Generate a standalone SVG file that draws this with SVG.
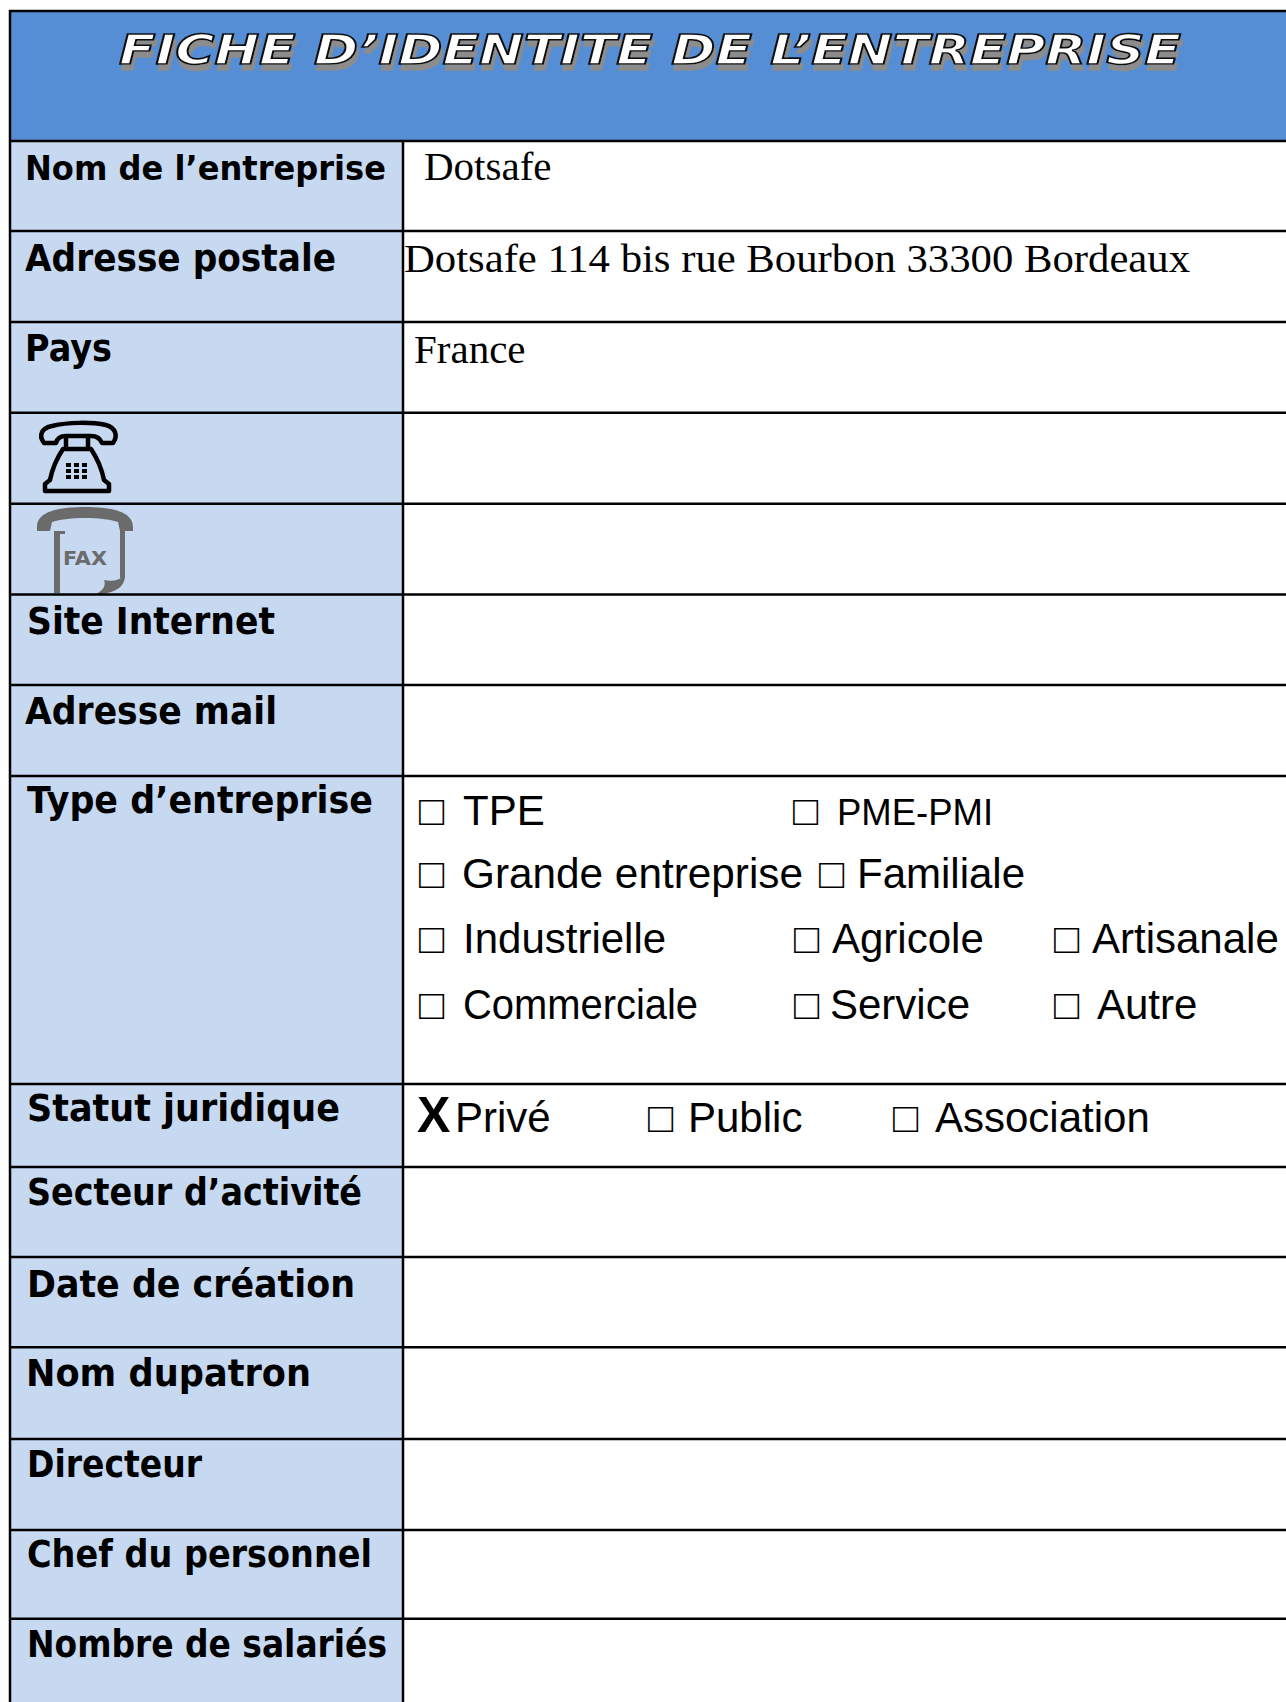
<svg xmlns="http://www.w3.org/2000/svg" width="1286" height="1702" viewBox="0 0 1286 1702">
<style>
.lbl{font-family:"DejaVu Sans","Open Sans",sans-serif;font-weight:bold;font-size:37px;fill:#000}
.val{font-family:"Liberation Serif","Times New Roman",serif;font-size:41px;fill:#000}
.opt{font-family:"Liberation Sans",Arial,sans-serif;font-size:42px;fill:#000}
.grid{stroke:#000;stroke-width:2.5;fill:none}
.title{font-family:"DejaVu Sans","Liberation Sans",sans-serif;font-weight:bold;font-style:oblique;font-size:40px}
</style>
<defs>
<filter id="shadow" x="-5%" y="-40%" width="110%" height="200%">
<feOffset in="SourceAlpha" dx="2" dy="6" result="off"/>
<feFlood flood-color="#8c8c8c"/>
<feComposite in2="off" operator="in" result="sh"/>
<feMerge><feMergeNode in="sh"/><feMergeNode in="SourceGraphic"/></feMerge>
</filter>
</defs>
<rect x="0" y="0" width="1286" height="1702" fill="#fff"/>
<g id="header">
<rect x="10" y="11" width="1276" height="130" fill="#558ED5"/>
<text class="title" x="119" y="64" textLength="1062" lengthAdjust="spacingAndGlyphs" fill="#fff" stroke="#111" stroke-width="1.6" filter="url(#shadow)">FICHE D’IDENTITE DE L’ENTREPRISE</text>
</g>
<rect id="label-column" x="10" y="141" width="393" height="1561" fill="#C6D9F1"/>
<g id="row-nom">
<text class="lbl" x="25" y="180" style="font-size:33px" textLength="361" lengthAdjust="spacingAndGlyphs">Nom de l’entreprise</text>
<text class="val" x="424" y="180">Dotsafe</text>
</g>
<g id="row-adresse">
<text class="lbl" x="25" y="270.5" textLength="311" lengthAdjust="spacingAndGlyphs">Adresse postale</text>
<text class="val" x="404" y="271.5" textLength="786" lengthAdjust="spacingAndGlyphs">Dotsafe 114 bis rue Bourbon 33300 Bordeaux</text>
</g>
<g id="row-pays">
<text class="lbl" x="25" y="361" textLength="87" lengthAdjust="spacingAndGlyphs">Pays</text>
<text class="val" x="414" y="362.5">France</text>
</g>
<g id="row-telephone">
<g fill="none" stroke="#000" stroke-width="4.5" stroke-linejoin="round">
<path d="M44,443 C38,435 42,428 52,426 C68,422 92,422 106,425 C116,428 118,436 113,443 L102,443 C100,438 97,436 91,436 L66,436 C60,436 57,439 56,443 Z"/>
<path d="M66,437 L66,449 M88,437 L88,449"/>
<path d="M63,449 L91,449 C97,458 102,470 104,480 L109,484 L109,491 L45,491 L45,484 L50,480 C52,470 57,458 63,449 Z"/>
</g>
<g fill="#000">
<rect x="66" y="463" width="5" height="4"/><rect x="74" y="463" width="5" height="4"/><rect x="82" y="463" width="5" height="4"/>
<rect x="66" y="469" width="5" height="4"/><rect x="74" y="469" width="5" height="4"/><rect x="82" y="469" width="5" height="4"/>
<rect x="66" y="475" width="5" height="4"/><rect x="74" y="475" width="5" height="4"/><rect x="82" y="475" width="5" height="4"/>
</g>
</g>
<g id="row-fax" fill="#6b6b6b">
<path d="M37,527 C37,514 52,507 85,507 C118,507 133,514 133,527 L133,531 L120,531 L118,522 C108,519 98,518 85,518 C72,518 62,519 52,522 L50,531 L37,531 Z"/>
<rect x="54" y="531" width="6" height="62"/>
<rect x="54" y="531" width="11" height="3"/>
<rect x="120" y="531" width="5" height="47"/>
<path d="M125,575 C125,587 116,592 102,594 L96,594 C104,590 106,585 104,580 C113,582 120,580 125,575 Z"/>
<text x="63" y="565" font-family="DejaVu Sans, sans-serif" font-weight="bold" font-size="19" textLength="44" lengthAdjust="spacingAndGlyphs">FAX</text>
</g>
<g id="row-site"><text class="lbl" x="27" y="634" textLength="248" lengthAdjust="spacingAndGlyphs">Site Internet</text></g>
<g id="row-mail"><text class="lbl" x="25" y="724" textLength="252" lengthAdjust="spacingAndGlyphs">Adresse mail</text></g>
<g id="row-type">
<text class="lbl" x="27" y="813" textLength="346" lengthAdjust="spacingAndGlyphs">Type d’entreprise</text>
<text class="opt" y="825"><tspan x="419">□ </tspan><tspan x="463">TPE</tspan></text>
<text class="opt" y="825"><tspan x="793">□ </tspan><tspan x="837" style="font-size:36.5px">PME-PMI</tspan></text>
<text class="opt" y="888"><tspan x="419">□ </tspan><tspan x="462" textLength="341" lengthAdjust="spacingAndGlyphs">Grande entreprise</tspan></text>
<text class="opt" y="888"><tspan x="819">□</tspan><tspan x="857">Familiale</tspan></text>
<text class="opt" y="953"><tspan x="419">□ </tspan><tspan x="463">Industrielle</tspan></text>
<text class="opt" y="953"><tspan x="794">□</tspan><tspan x="832">Agricole</tspan></text>
<text class="opt" y="953"><tspan x="1054">□</tspan><tspan x="1092">Artisanale</tspan></text>
<text class="opt" y="1019"><tspan x="419">□ </tspan><tspan x="463" textLength="235" lengthAdjust="spacingAndGlyphs">Commerciale</tspan></text>
<text class="opt" y="1019"><tspan x="794">□</tspan><tspan x="830">Service</tspan></text>
<text class="opt" y="1019"><tspan x="1054">□ </tspan><tspan x="1097">Autre</tspan></text>
</g>
<g id="row-statut">
<text class="lbl" x="27" y="1121" textLength="313" lengthAdjust="spacingAndGlyphs">Statut juridique</text>
<text class="opt" x="417" y="1131.5" style="font-weight:bold;font-size:50px">X</text>
<text class="opt" x="455" y="1131.5">Privé</text>
<text class="opt" y="1131.5"><tspan x="648">□ </tspan><tspan x="688">Public</tspan></text>
<text class="opt" y="1131.5"><tspan x="893">□ </tspan><tspan x="935">Association</tspan></text>
</g>
<g id="row-secteur"><text class="lbl" x="27" y="1205" textLength="335" lengthAdjust="spacingAndGlyphs">Secteur d’activité</text></g>
<g id="row-date"><text class="lbl" x="27" y="1297" textLength="328" lengthAdjust="spacingAndGlyphs">Date de création</text></g>
<g id="row-patron"><text class="lbl" x="26" y="1386" textLength="285" lengthAdjust="spacingAndGlyphs">Nom dupatron</text></g>
<g id="row-directeur"><text class="lbl" x="27" y="1477" textLength="175" lengthAdjust="spacingAndGlyphs">Directeur</text></g>
<g id="row-chef"><text class="lbl" x="27" y="1567" textLength="345" lengthAdjust="spacingAndGlyphs">Chef du personnel</text></g>
<g id="row-salaries"><text class="lbl" x="27" y="1657" textLength="360" lengthAdjust="spacingAndGlyphs">Nombre de salariés</text></g>
<g id="connectors" class="grid">
<path d="M9,11 H1286 M9,141 H1286 M9,231 H1286 M9,322 H1286 M9,412.7 H1286 M9,503.7 H1286 M9,594.5 H1286 M9,685 H1286 M9,776 H1286 M9,1084 H1286 M9,1167 H1286 M9,1257 H1286 M9,1347.3 H1286 M9,1439 H1286 M9,1530 H1286 M9,1618.7 H1286"/>
<path d="M10,10 V1702 M403,141 V1702"/>
</g>
</svg>
